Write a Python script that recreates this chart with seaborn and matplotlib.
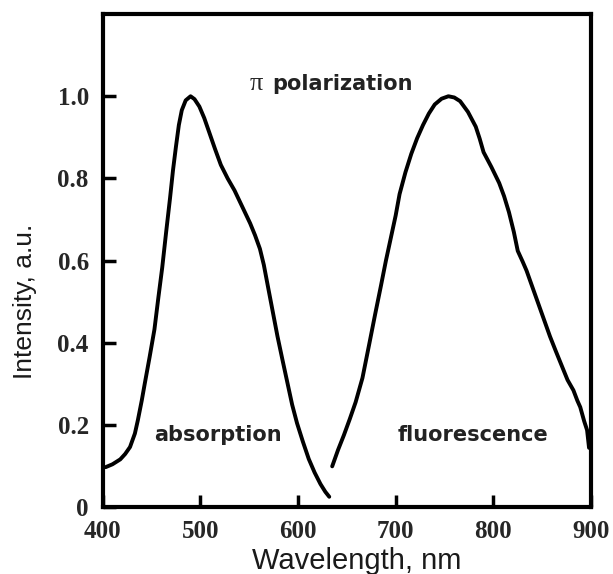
import matplotlib
matplotlib.use("Agg")
import matplotlib.pyplot as plt
import seaborn as sns
import pandas as pd

abs_wl = [403, 410, 418, 423, 428, 433, 436, 440, 443, 448, 453, 457, 461, 465, 469, 472, 475, 478, 481,
          485, 490, 494, 499, 504, 509, 515, 521, 528, 535, 543, 551, 556, 561, 565, 569, 574, 579, 584,
          589, 594, 599, 605, 611, 617, 623, 628, 632]
abs_int = [0.098, 0.105, 0.117, 0.13, 0.147, 0.18, 0.212, 0.26, 0.30, 0.365, 0.433, 0.51, 0.584, 0.67,
           0.753, 0.82, 0.877, 0.93, 0.966, 0.99, 1.0, 0.993, 0.975, 0.947, 0.913, 0.872, 0.833, 0.80,
           0.771, 0.731, 0.691, 0.662, 0.629, 0.59, 0.54, 0.478, 0.416, 0.36, 0.305, 0.25, 0.205, 0.16,
           0.118, 0.085, 0.057, 0.038, 0.026]

fl_wl = [635, 641, 647, 653, 659, 666, 673, 679, 685, 690, 695, 700, 704, 710, 716, 722, 728, 734, 740,
         747, 754, 760, 766, 774, 782, 786, 790, 798, 806, 811, 816, 821, 825, 830, 834, 840, 846, 852,
         858, 864, 870, 876, 882, 886, 889, 893, 896, 898]
fl_int = [0.10, 0.14, 0.176, 0.215, 0.256, 0.315, 0.398, 0.47, 0.54, 0.60, 0.655, 0.71, 0.762, 0.815,
          0.86, 0.898, 0.93, 0.958, 0.98, 0.994, 1.0, 0.997, 0.988, 0.962, 0.926, 0.897, 0.864, 0.828,
          0.789, 0.757, 0.718, 0.67, 0.624, 0.598, 0.576, 0.536, 0.496, 0.456, 0.416, 0.38, 0.345, 0.31,
          0.285, 0.26, 0.244, 0.21, 0.188, 0.145]

x_ticks = [400, 500, 600, 700, 800, 900]
y_ticks = [0, 0.2, 0.4, 0.6, 0.8, 1.0]
y_tick_labels = ["0", "0.2", "0.4", "0.6", "0.8", "1.0"]

sns.set_style("ticks")
plt.rcParams["font.family"] = ["Liberation Sans", "DejaVu Sans"]

fig = plt.figure(figsize=(6.13, 5.74), dpi=100)
ax = fig.add_axes([0.1675, 0.1159, 0.7966, 0.8597])

df_abs = pd.DataFrame({"wl": abs_wl, "I": abs_int})
df_fl = pd.DataFrame({"wl": fl_wl, "I": fl_int})
sns.lineplot(data=df_abs, x="wl", y="I", ax=ax, color="black", lw=2.8, sort=False)
sns.lineplot(data=df_fl, x="wl", y="I", ax=ax, color="black", lw=2.8, sort=False)

ax.set_xlim(400, 900)
ax.set_ylim(0, 1.2)
ax.set_xticks(x_ticks)
ax.set_xticklabels([str(t) for t in x_ticks])
ax.set_yticks(y_ticks)
ax.set_yticklabels(y_tick_labels)
for lab in ax.get_xticklabels() + ax.get_yticklabels():
    lab.set_fontfamily(["Liberation Serif", "DejaVu Serif"])
    lab.set_fontweight("bold")
    lab.set_fontsize(18)
ax.tick_params(axis="both", direction="in", length=9, width=2.5, color="black")
ax.tick_params(axis="x", pad=9)
ax.tick_params(axis="y", pad=10)
for s in ax.spines.values():
    s.set_linewidth(3)
    s.set_color("black")

ax.set_xlabel("Wavelength, nm", fontsize=21, color="#1a1a1a")
ax.xaxis.set_label_coords(0.52, -0.108)
ax.xaxis.label.set_va("center")
ax.set_ylabel("Intensity, a.u.", fontsize=19, color="#1a1a1a")
ax.yaxis.set_label_coords(-0.160, 0.418)
ax.yaxis.label.set_va("center")

ax.text(564, 1.031, "\u03c0", fontsize=19, fontfamily=["Liberation Serif"], ha="right", va="center")
ax.text(574, 1.031, "polarization", fontsize=15, fontweight="bold", fontfamily=["DejaVu Sans"],
        ha="left", va="center", color="#222222")
ax.text(518.5, 0.176, "absorption", fontsize=15, fontweight="bold", fontfamily=["DejaVu Sans"],
        ha="center", va="center", color="#222222")
ax.text(779, 0.176, "fluorescence", fontsize=15, fontweight="bold", fontfamily=["DejaVu Sans"],
        ha="center", va="center", color="#222222")

fig.savefig("out.png", dpi=100, facecolor="white")
